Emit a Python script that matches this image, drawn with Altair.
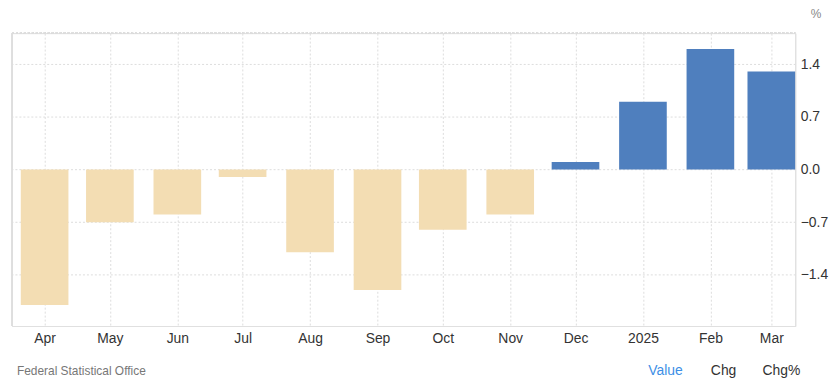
import altair as alt
import pandas as pd

dates = ["2024-04-01", "2024-05-01", "2024-06-01", "2024-07-01", "2024-08-01", "2024-09-01",
         "2024-10-01", "2024-11-01", "2024-12-01", "2025-01-01", "2025-02-01", "2025-03-01"]
values = [-1.8, -0.7, -0.6, -0.1, -1.1, -1.6, -0.8, -0.6, 0.1, 0.9, 1.6, 1.3]
y_ticks = [-1.4, -0.7, 0.0, 0.7, 1.4]
x_domain = ["2024-03-17", "2025-03-12"]

df = pd.DataFrame({"date": dates, "value": values})
df["sign"] = ["neg" if v < 0 else "pos" for v in values]


def ms(s):
    return int(pd.Timestamp(s, tz="UTC").timestamp() * 1000)


W, H = 789, 295
FONT = "Liberation Sans"

x_enc = alt.X("date:T", title=None,
              scale=alt.Scale(type="utc", domain=[ms(d) for d in x_domain], nice=False, padding=0),
              axis=alt.Axis(values=[ms(d) for d in dates],
                            labelExpr="utcFormat(datum.value, '%m') == '01' ? utcFormat(datum.value, '%Y') : utcFormat(datum.value, '%b')",
                            labelAngle=0, labelFontSize=14, labelColor="#333333",
                            labelFont=FONT, labelPadding=6, ticks=False, labelFlush=False,
                            labelOverlap=False,
                            domainColor="#e0e0e0", grid=True, gridColor="#dddddd",
                            gridDash=[2, 2]))
y_enc = alt.Y("value:Q", title=None,
              scale=alt.Scale(domain=[-2.08, 1.81], nice=False, zero=False),
              axis=alt.Axis(orient="right", values=y_ticks, format=".1f",
                            labelFontSize=14, labelColor="#333333", labelFont=FONT,
                            labelAlign="left", labelPadding=5, ticks=False,
                            domainColor="#e0e0e0", gridColor="#dddddd",
                            gridDash=[2, 2]))

bars = alt.Chart(df).mark_bar(size=48).encode(
    x=x_enc,
    y=y_enc,
    y2=alt.datum(0),
    color=alt.Color("sign:N", legend=None,
                    scale=alt.Scale(domain=["neg", "pos"], range=["#F3DDB3", "#4F7FBE"])),
)

left_rule = alt.Chart(df).mark_rule(color="#e0e0e0").encode(
    x=alt.value(0), y=alt.value(0), y2=alt.value(H))
top_rule = alt.Chart(df).mark_rule(color="#dddddd", strokeDash=[2, 2]).encode(
    x=alt.value(0), x2=alt.value(W), y=alt.value(0))


def txt(s, x, y, color, size, align="left"):
    return alt.Chart(pd.DataFrame({"t": [s]})).mark_text(
        align=align, baseline="middle", font=FONT, fontSize=size, color=color
    ).encode(text="t:N", x=alt.value(x), y=alt.value(y))


pct = txt("%", 810, -19, "#888888", 12, "center")
src = txt("Federal Statistical Office", 5, 340, "#777777", 12)
v1 = txt("Value", 641, 340, "#3d8fe6", 14)
v2 = txt("Chg", 704, 340, "#333333", 14)
v3 = txt("Chg%", 756, 340, "#333333", 14)

chart = alt.layer(left_rule, top_rule, bars, pct, src, v1, v2, v3).properties(
    width=W, height=H,
    autosize=alt.AutoSizeParams(type="none"),
    padding={"left": 4, "top": 24, "right": 34, "bottom": 52},
).configure_view(stroke=None).configure(font=FONT)

chart.save("out.html", embed_options={"renderer": "svg", "actions": False})
